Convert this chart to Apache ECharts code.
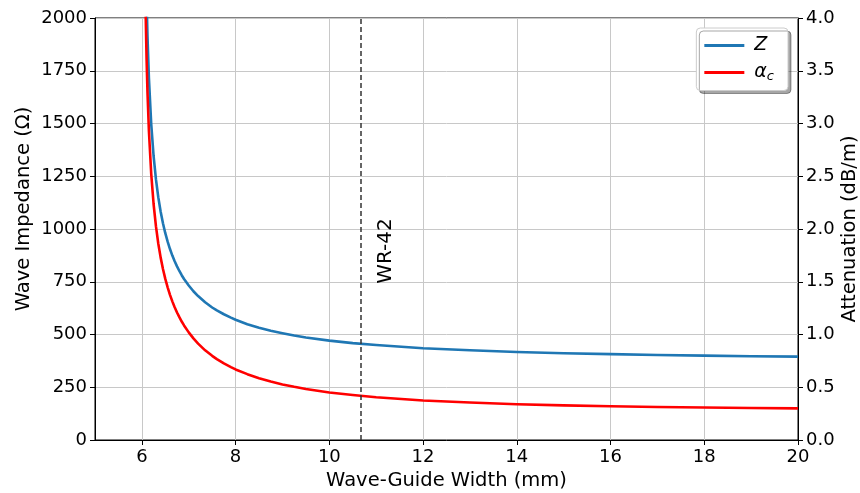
<!DOCTYPE html>
<html>
<head>
<meta charset="utf-8">
<script src="https://cdn.jsdelivr.net/npm/echarts@6/dist/echarts.min.js"></script>
<style>
  html, body { margin: 0; padding: 0; background: #fff; }
  #chart { width: 860px; height: 493px; }
</style>
</head>
<body>
<div id="chart"></div>
<script>
// Wave-guide width (mm)
const widths = [6.05, 6.08, 6.1, 6.12, 6.15, 6.2, 6.25, 6.3, 6.35, 6.4, 6.45, 6.5, 6.55, 6.6, 6.65, 6.7, 6.75, 6.8, 6.85, 6.9, 7.0, 7.1, 7.2, 7.35, 7.5, 7.6, 7.75, 7.9, 8, 8.25, 8.5, 8.75, 9, 9.25, 9.5, 10, 10.5, 11, 12, 13, 14, 15, 16, 17, 18, 19, 20];
// Wave impedance Z (ohm)
const impedance = [2938, 2332, 2091, 1913, 1717, 1496, 1346, 1236, 1151, 1083, 1027, 980, 940, 905, 874, 847, 823, 801, 781, 763, 732, 705, 682, 653, 628, 614, 596, 580, 570, 549, 532, 518, 506, 495, 486, 471, 459, 450, 435, 425, 417, 411, 407, 403, 400, 397, 395];
// Conductor attenuation alpha_c (dB/m)
const attenuation = [5.162, 4.061, 3.621, 3.294, 2.932, 2.520, 2.237, 2.027, 1.863, 1.731, 1.621, 1.527, 1.447, 1.376, 1.314, 1.259, 1.209, 1.164, 1.123, 1.086, 1.020, 0.963, 0.914, 0.850, 0.798, 0.767, 0.726, 0.691, 0.669, 0.624, 0.586, 0.554, 0.527, 0.504, 0.484, 0.451, 0.426, 0.405, 0.375, 0.355, 0.339, 0.328, 0.320, 0.313, 0.308, 0.304, 0.300];

const xTicks = [6, 8, 10, 12, 14, 16, 18, 20];
const wr42Width = 10.668;
const wr42Label = 'WR-42';
const wr42LabelPos = [11, 750];

const FONT = 'DejaVu Sans';
const chart = echarts.init(document.getElementById('chart'), null, { renderer: 'canvas' });

const axisText = { color: '#000', fontFamily: FONT, fontSize: 18 };
const nameText = { color: '#000', fontFamily: FONT, fontSize: 19.5 };
const gridLine = { show: true, lineStyle: { color: '#c8c8c8', width: 1 } };

chart.setOption({
  animation: false,
  backgroundColor: '#fff',
  grid: {
    left: 95, right: 62, top: 18, bottom: 53,
    containLabel: false,
    outerBoundsMode: 'none',
    show: true, borderColor: '#000', borderWidth: 1, backgroundColor: 'transparent'
  },
  legend: {
    orient: 'vertical',
    right: 72,
    top: 28,
    icon: 'rect',
    itemWidth: 40,
    itemHeight: 3,
    itemGap: 8,
    padding: [8, 14, 7, 8],
    backgroundColor: '#fff',
    borderColor: '#cccccc',
    borderWidth: 1,
    borderRadius: 4,
    shadowColor: 'rgba(0,0,0,0.35)',
    shadowOffsetX: 3,
    shadowOffsetY: 3,
    shadowBlur: 0,
    formatter: function (name) {
      return name === 'Z' ? '{i|Z}' : '{i|α}{s|c}';
    },
    textStyle: {
      color: '#000',
      fontFamily: FONT,
      padding: [0, 0, 0, 5],
      rich: {
        i: { fontFamily: FONT, fontStyle: 'italic', fontSize: 19, lineHeight: 22, verticalAlign: 'middle' },
        s: { fontFamily: FONT, fontStyle: 'italic', fontSize: 13, lineHeight: 22, verticalAlign: 'bottom' }
      }
    },
    data: ['Z', 'αc']
  },
  xAxis: {
    type: 'value',
    min: 5,
    max: 20,
    interval: 1,
    name: 'Wave-Guide Width (mm)',
    nameLocation: 'middle',
    nameGap: 31,
    nameMoveOverlap: false,
    nameTextStyle: nameText,
    axisLine: { show: true, onZero: false, lineStyle: { color: '#000', width: 1 } },
    axisTick: { show: true, customValues: xTicks, length: 5, lineStyle: { color: '#000' } },
    axisLabel: Object.assign({ customValues: xTicks, margin: 8 }, axisText),
    splitLine: gridLine
  },
  yAxis: [
    {
      type: 'value',
      min: 0,
      max: 2000,
      interval: 250,
      name: 'Wave Impedance (Ω)',
      nameLocation: 'middle',
      nameGap: 61,
      nameMoveOverlap: false,
      nameTextStyle: Object.assign({ padding: [0, 0, 0, 40] }, nameText),
      axisLine: { show: true, lineStyle: { color: '#000', width: 1 } },
      axisTick: { show: true, length: 5, lineStyle: { color: '#000' } },
      axisLabel: Object.assign({ margin: 8, formatter: v => String(v) }, axisText),
      splitLine: gridLine
    },
    {
      type: 'value',
      min: 0,
      max: 4,
      interval: 0.5,
      position: 'right',
      name: 'Attenuation (dB/m)',
      nameLocation: 'middle',
      nameGap: 42,
      nameRotate: 90,
      nameMoveOverlap: false,
      nameTextStyle: nameText,
      axisLine: { show: true, lineStyle: { color: '#000', width: 1 } },
      axisTick: { show: true, length: 5, lineStyle: { color: '#000' } },
      axisLabel: Object.assign({ margin: 8, formatter: v => v.toFixed(1) }, axisText),
      splitLine: { show: false }
    }
  ],
  series: [
    {
      name: 'Z',
      type: 'line',
      yAxisIndex: 0,
      data: widths.map((w, i) => [w, impedance[i]]),
      showSymbol: false,
      smooth: false,
      clip: true,
      lineStyle: { color: '#1f77b4', width: 2.6, join: 'round' },
      itemStyle: { color: '#1f77b4' },
      z: 3,
      markLine: {
        silent: true,
        symbol: 'none',
        label: { show: false },
        lineStyle: { color: '#333', type: [5, 3], width: 1.5 },
        data: [{ xAxis: wr42Width }]
      },
      markPoint: {
        silent: true,
        symbol: 'circle',
        symbolSize: 0,
        data: [{ coord: wr42LabelPos, value: wr42Label }],
        label: {
          show: true,
          position: 'inside',
          formatter: wr42Label,
          rotate: 90,
          align: 'left',
          verticalAlign: 'top',
          offset: [-2, 0],
          color: '#000',
          fontFamily: FONT,
          fontSize: 20
        }
      }
    },
    {
      name: 'αc',
      type: 'line',
      yAxisIndex: 1,
      data: widths.map((w, i) => [w, attenuation[i]]),
      showSymbol: false,
      smooth: false,
      clip: true,
      lineStyle: { color: '#ff0000', width: 2.6, join: 'round' },
      itemStyle: { color: '#ff0000' },
      z: 3
    }
  ]
});
</script>
</body>
</html>
